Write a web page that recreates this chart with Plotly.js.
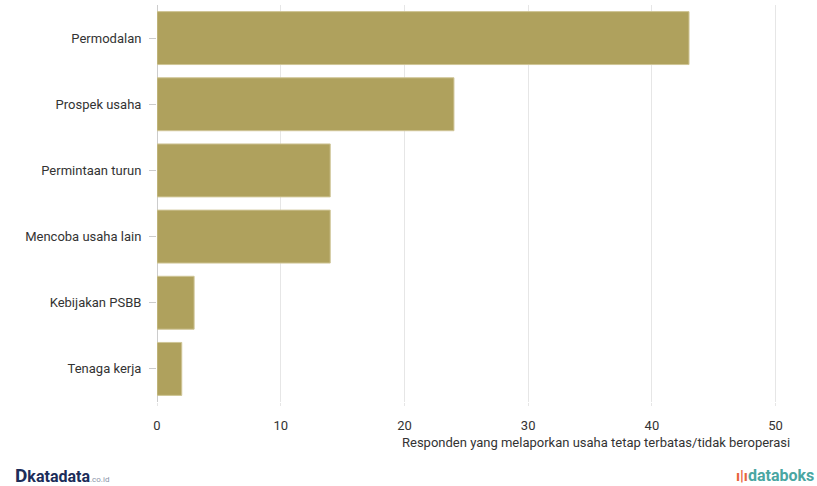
<!DOCTYPE html>
<html><head><meta charset="utf-8">
<script src="https://cdn.plot.ly/plotly-3.0.1.min.js"></script>
<style>html,body{margin:0;padding:0;background:#fff;}#chart{width:817px;height:486px;}</style>
</head><body><div id="chart"></div>
<script>
const categories = ["Permodalan","Prospek usaha","Permintaan turun","Mencoba usaha lain","Kebijakan PSBB","Tenaga kerja"];
const values = [43, 24, 14, 14, 3, 2];
const tickVals = [0, 10, 20, 30, 40, 50];
const axisTitle = "Responden yang melaporkan usaha tetap terbatas/tidak beroperasi";

const trace = {
  type: 'bar', orientation: 'h',
  x: values, y: categories,
  marker: {color: '#AFA15D', line: {color: '#CFC596', width: 1}},
  hoverinfo: 'x+y'
};
const layout = {
  width: 817, height: 486,
  margin: {l: 157, r: 29, t: 5, b: 84},
  paper_bgcolor: '#fff', plot_bgcolor: '#fff',
  font: {family: 'Roboto, Arial, sans-serif', size: 13, color: '#333'},
  bargap: 0.2,
  showlegend: false,
  xaxis: {range: [0, 51], tickvals: tickVals, showgrid: true, gridcolor: '#e6e6e6',
    zeroline: true, zerolinecolor: '#cccccc', zerolinewidth: 1,
    ticks: 'outside', ticklen: 3, tickcolor: '#e6e6e6', ticklabelstandoff: 8,
    tickfont: {size: 13, color: '#333'}, fixedrange: true},
  yaxis: {autorange: 'reversed', ticks: 'outside', ticklen: 7, tickcolor: '#ccc',
    ticklabelstandoff: 5, tickfont: {size: 13, color: '#333'}, showgrid: false, fixedrange: true},
  annotations: [
    {text: axisTitle, xref: 'paper', yref: 'paper', x: 1.006, y: -0.102, xanchor: 'right', yanchor: 'middle',
     showarrow: false, font: {size: 13, color: '#333'}},
    {text: '<b><span style="color:#1c2d5a;font-size:19px">D</span><span style="color:#1c2d5a;font-size:16px">katadata</span></b><span style="color:#8a93a8;font-size:8px">.co.id</span>',
     xref: 'paper', yref: 'paper', x: -0.228, y: -0.185, xanchor: 'left', yanchor: 'middle', showarrow: false},
    {text: '<b><span style="color:#e8643c;font-size:15px">ı|ı</span><span style="color:#4aa6a2;font-size:16px">databoks</span></b>',
     xref: 'paper', yref: 'paper', x: 1.045, y: -0.185, xanchor: 'right', yanchor: 'middle', showarrow: false}
  ]
};
Plotly.newPlot('chart', [trace], layout, {displayModeBar: false, staticPlot: true});
</script></body></html>
